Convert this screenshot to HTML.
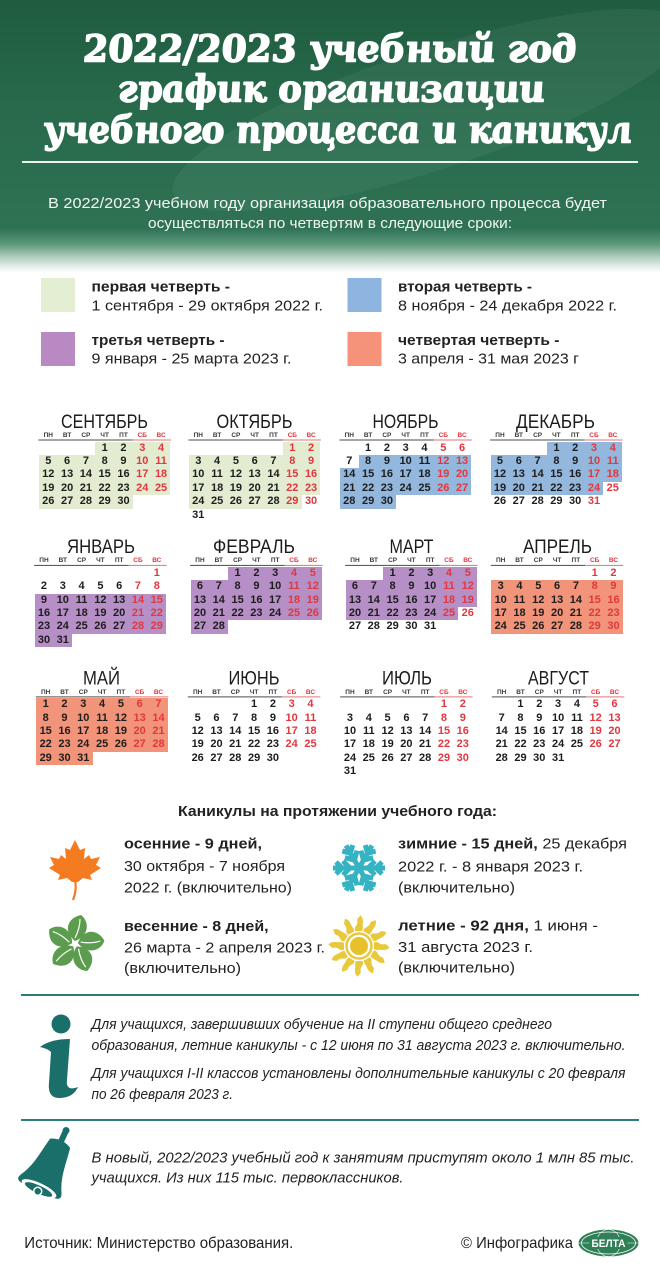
<!DOCTYPE html>
<html><head><meta charset="utf-8">
<style>
*{margin:0;padding:0;box-sizing:border-box}
body{width:660px;height:1280px;position:relative;overflow:hidden;background:#fff;font-family:"Liberation Sans",sans-serif}
svg.bg{position:absolute;left:0;top:0}
.w{position:absolute;width:131.6px}
.h{position:absolute;left:0;top:-9.5px;display:grid;grid-template-columns:repeat(7,18.8px);font:bold 6.5px/7px "Liberation Sans",sans-serif;color:#3a3a3a;text-align:center}
.h i{font-style:normal;display:block}
.h i:nth-child(n+6){color:#e0383e}
.m{position:absolute;left:0;top:0;display:grid;grid-template-columns:repeat(7,18.8px);grid-auto-rows:13.4px;font:bold 11px/13.4px "Liberation Sans",sans-serif;color:#1d1d1d;text-align:center}
.m i,.m b{display:block;font-style:normal;font-weight:bold}
.m i:nth-child(7n+6),.m i:nth-child(7n),.m b:nth-child(7n+6),.m b:nth-child(7n){color:#e0383e}
.m.g b{background:#e3ecd1}
.m.bl b{background:#93b7dd}
.m.p b{background:#b68fc6}
.m.o b{background:#f19479}
</style></head><body>

<svg class="bg" width="660" height="1280" viewBox="0 0 660 1280">
<defs>
<linearGradient id="hg" x1="0" y1="0" x2="0" y2="1">
<stop offset="0" stop-color="#1f5c40"/>
<stop offset="0.4" stop-color="#286a4b"/>
<stop offset="0.83" stop-color="#2e7253"/>
<stop offset="0.89" stop-color="#5f9a7d"/>
<stop offset="0.94" stop-color="#b9d4c6"/>
<stop offset="0.99" stop-color="#ffffff"/>
</linearGradient>
</defs>
<rect x="0" y="0" width="660" height="275" fill="url(#hg)"/>
<ellipse cx="430" cy="110" rx="270" ry="60" transform="rotate(-18 430 110)" fill="#ffffff" opacity="0.05"/>

<g font-family="DejaVu Serif, Liberation Serif, serif" font-weight="bold" font-style="italic" font-size="37" fill="#ffffff" stroke="#ffffff" stroke-width="1.6" stroke-linejoin="round" text-anchor="middle">
<text transform="matrix(1,0,0.12,1,-7.4,0)" x="331.5" y="61.5" textLength="493" lengthAdjust="spacingAndGlyphs">2022/2023 учебный год</text>
<text transform="matrix(1,0,0.12,1,-12.2,0)" x="332.5" y="101.5" textLength="427" lengthAdjust="spacingAndGlyphs">график организации</text>
<text transform="matrix(1,0,0.12,1,-17.1,0)" x="339" y="142.5" textLength="588" lengthAdjust="spacingAndGlyphs">учебного процесса и каникул</text>
</g>
<rect x="22" y="161" width="616" height="2" fill="#eef4ef"/>
<g font-family="Liberation Sans, sans-serif" font-size="15" fill="#f2f6f3" text-anchor="middle">
<text x="327.5" y="208" textLength="559" lengthAdjust="spacingAndGlyphs">В 2022/2023 учебном году организация образовательного процесса будет</text>
<text x="330" y="228" textLength="364" lengthAdjust="spacingAndGlyphs">осуществляться по четвертям в следующие сроки:</text>
</g>

<!-- legend -->
<rect x="41" y="278" width="34" height="34" fill="#e4eed3"/>
<rect x="347.5" y="278" width="34" height="34" fill="#8db5df"/>
<rect x="41" y="332" width="34" height="34" fill="#b889c3"/>
<rect x="347.5" y="332" width="34" height="34" fill="#f4937a"/>
<g font-family="Liberation Sans, sans-serif" font-size="15" fill="#222">
<text x="91.5" y="291.5" font-weight="bold" textLength="138.5" lengthAdjust="spacingAndGlyphs">первая четверть -</text>
<text x="91.5" y="310.7" textLength="231.5" lengthAdjust="spacingAndGlyphs">1 сентября - 29 октября 2022 г.</text>
<text x="398" y="291.5" font-weight="bold" textLength="134" lengthAdjust="spacingAndGlyphs">вторая четверть -</text>
<text x="398" y="310.7" textLength="219" lengthAdjust="spacingAndGlyphs">8 ноября - 24 декабря 2022 г.</text>
<text x="91.5" y="345" font-weight="bold" textLength="133" lengthAdjust="spacingAndGlyphs">третья четверть -</text>
<text x="91.5" y="363.5" textLength="200" lengthAdjust="spacingAndGlyphs">9 января - 25 марта 2023 г.</text>
<text x="398" y="345" font-weight="bold" textLength="161.5" lengthAdjust="spacingAndGlyphs">четвертая четверть -</text>
<text x="398" y="363.5" textLength="181" lengthAdjust="spacingAndGlyphs">3 апреля - 31 мая 2023 г</text>
</g>

<!-- month titles -->
<g font-family="Liberation Sans, sans-serif" font-size="19" fill="#1c1c1c" text-anchor="middle">
<text x="104.5" y="427.8" textLength="87" lengthAdjust="spacingAndGlyphs">СЕНТЯБРЬ</text>
<text x="254.5" y="427.8" textLength="76" lengthAdjust="spacingAndGlyphs">ОКТЯБРЬ</text>
<text x="405.5" y="427.8" textLength="66" lengthAdjust="spacingAndGlyphs">НОЯБРЬ</text>
<text x="555.5" y="427.8" textLength="79" lengthAdjust="spacingAndGlyphs">ДЕКАБРЬ</text>
<text x="101" y="553" textLength="68" lengthAdjust="spacingAndGlyphs">ЯНВАРЬ</text>
<text x="254" y="553" textLength="82" lengthAdjust="spacingAndGlyphs">ФЕВРАЛЬ</text>
<text x="411.5" y="553" textLength="44" lengthAdjust="spacingAndGlyphs">МАРТ</text>
<text x="557.5" y="553" textLength="69" lengthAdjust="spacingAndGlyphs">АПРЕЛЬ</text>
<text x="101.5" y="684.5" textLength="37" lengthAdjust="spacingAndGlyphs">МАЙ</text>
<text x="254" y="684.5" textLength="51" lengthAdjust="spacingAndGlyphs">ИЮНЬ</text>
<text x="407" y="684.5" textLength="50" lengthAdjust="spacingAndGlyphs">ИЮЛЬ</text>
<text x="558.5" y="684.5" textLength="61" lengthAdjust="spacingAndGlyphs">АВГУСТ</text>
</g>
<!-- month underlines -->
<g>
<rect x="38.4" y="439.5" width="94.5" height="1" fill="#4d4d4d"/><rect x="132.9" y="439.5" width="38" height="1" fill="#e57373"/>
<rect x="188.4" y="439.5" width="94.5" height="1" fill="#4d4d4d"/><rect x="282.9" y="439.5" width="38" height="1" fill="#e57373"/>
<rect x="339.4" y="439.5" width="94.5" height="1" fill="#4d4d4d"/><rect x="433.9" y="439.5" width="38" height="1" fill="#e57373"/>
<rect x="490.1" y="439.5" width="94.5" height="1" fill="#4d4d4d"/><rect x="584.6" y="439.5" width="38" height="1" fill="#e57373"/>
<rect x="34.1" y="564.9" width="94.5" height="1" fill="#4d4d4d"/><rect x="128.6" y="564.9" width="38" height="1" fill="#e57373"/>
<rect x="190.1" y="564.9" width="94.5" height="1" fill="#4d4d4d"/><rect x="284.6" y="564.9" width="38" height="1" fill="#e57373"/>
<rect x="345.1" y="564.9" width="94.5" height="1" fill="#4d4d4d"/><rect x="439.6" y="564.9" width="38" height="1" fill="#e57373"/>
<rect x="490.8" y="564.9" width="94.5" height="1" fill="#4d4d4d"/><rect x="585.3" y="564.9" width="38" height="1" fill="#e57373"/>
<rect x="35.8" y="696.4" width="94.5" height="1" fill="#4d4d4d"/><rect x="130.3" y="696.4" width="38" height="1" fill="#e57373"/>
<rect x="187.8" y="696.4" width="94.5" height="1" fill="#4d4d4d"/><rect x="282.3" y="696.4" width="38" height="1" fill="#e57373"/>
<rect x="340.1" y="696.4" width="94.5" height="1" fill="#4d4d4d"/><rect x="434.6" y="696.4" width="38" height="1" fill="#e57373"/>
<rect x="491.8" y="696.4" width="94.5" height="1" fill="#4d4d4d"/><rect x="586.3" y="696.4" width="38" height="1" fill="#e57373"/>
</g>

<!-- vacations -->
<g font-family="Liberation Sans, sans-serif" font-size="15" fill="#222">
<text x="337.5" y="816" text-anchor="middle" font-weight="bold" textLength="319" lengthAdjust="spacingAndGlyphs">Каникулы на протяжении учебного года:</text>
<text x="124" y="848.5" font-weight="bold" textLength="138" lengthAdjust="spacingAndGlyphs">осенние - 9 дней,</text>
<text x="124" y="871" textLength="161" lengthAdjust="spacingAndGlyphs">30 октября - 7 ноября</text>
<text x="124" y="892.5" textLength="168" lengthAdjust="spacingAndGlyphs">2022 г. (включительно)</text>
<text x="398" y="848.5" textLength="229" lengthAdjust="spacingAndGlyphs"><tspan font-weight="bold">зимние - 15 дней,</tspan> 25 декабря</text>
<text x="398" y="871.5" textLength="185" lengthAdjust="spacingAndGlyphs">2022 г. - 8 января 2023 г.</text>
<text x="398" y="892.5" textLength="117" lengthAdjust="spacingAndGlyphs">(включительно)</text>
<text x="124" y="931" font-weight="bold" textLength="144.6" lengthAdjust="spacingAndGlyphs">весенние - 8 дней,</text>
<text x="124" y="952.5" textLength="201" lengthAdjust="spacingAndGlyphs">26 марта - 2 апреля 2023 г.</text>
<text x="124" y="973" textLength="117" lengthAdjust="spacingAndGlyphs">(включительно)</text>
<text x="398" y="930.5" textLength="200" lengthAdjust="spacingAndGlyphs"><tspan font-weight="bold">летние - 92 дня,</tspan> 1 июня -</text>
<text x="398" y="952" textLength="135" lengthAdjust="spacingAndGlyphs">31 августа 2023 г.</text>
<text x="398" y="972.5" textLength="117" lengthAdjust="spacingAndGlyphs">(включительно)</text>
</g>

<!-- maple leaf -->
<g transform="translate(75,868)" fill="#f47b20">
<path d="M0,-28 L5,-18 L10,-20 L9,-9 L14,-13 L16,-9 L25,-11 L21,-3 L26,0 L15,7 L17,12 L8,10 L3,14 L-3,14 L-8,10 L-17,12 L-15,7 L-26,0 L-21,-3 L-25,-11 L-16,-9 L-14,-13 L-9,-9 L-10,-20 L-5,-18 Z"/>
<path d="M0,12 Q2,22 -2,32" stroke="#f47b20" stroke-width="2.2" fill="none"/>
</g>
<!-- snowflake -->
<g transform="translate(359,868)" stroke="#36b3c2" stroke-width="5" fill="none" stroke-linecap="butt">
<path d="M0,0 L26,0 M9,0 L16,-7 M9,0 L16,7 M17,0 L23,-6 M17,0 L23,6"/>
<path transform="rotate(60)" d="M0,0 L26,0 M9,0 L16,-7 M9,0 L16,7 M17,0 L23,-6 M17,0 L23,6"/>
<path transform="rotate(120)" d="M0,0 L26,0 M9,0 L16,-7 M9,0 L16,7 M17,0 L23,-6 M17,0 L23,6"/>
<path transform="rotate(180)" d="M0,0 L26,0 M9,0 L16,-7 M9,0 L16,7 M17,0 L23,-6 M17,0 L23,6"/>
<path transform="rotate(240)" d="M0,0 L26,0 M9,0 L16,-7 M9,0 L16,7 M17,0 L23,-6 M17,0 L23,6"/>
<path transform="rotate(300)" d="M0,0 L26,0 M9,0 L16,-7 M9,0 L16,7 M17,0 L23,-6 M17,0 L23,6"/>
</g>
<!-- flower -->
<g transform="translate(75,944)" fill="#5c9c4e">
<g><path d="M0,-3 C14,-8 15,-22 6,-29 C-8,-26 -12,-13 0,-3 Z"/><path d="M0,-6 Q5,-16 5,-25" stroke="#fff" stroke-width="1.2" fill="none"/></g>
<g transform="rotate(72)"><path d="M0,-3 C14,-8 15,-22 6,-29 C-8,-26 -12,-13 0,-3 Z"/><path d="M0,-6 Q5,-16 5,-25" stroke="#fff" stroke-width="1.2" fill="none"/></g>
<g transform="rotate(144)"><path d="M0,-3 C14,-8 15,-22 6,-29 C-8,-26 -12,-13 0,-3 Z"/><path d="M0,-6 Q5,-16 5,-25" stroke="#fff" stroke-width="1.2" fill="none"/></g>
<g transform="rotate(216)"><path d="M0,-3 C14,-8 15,-22 6,-29 C-8,-26 -12,-13 0,-3 Z"/><path d="M0,-6 Q5,-16 5,-25" stroke="#fff" stroke-width="1.2" fill="none"/></g>
<g transform="rotate(288)"><path d="M0,-3 C14,-8 15,-22 6,-29 C-8,-26 -12,-13 0,-3 Z"/><path d="M0,-6 Q5,-16 5,-25" stroke="#fff" stroke-width="1.2" fill="none"/></g>
</g>
<!-- sun -->
<g transform="translate(359,946)" fill="#e9c93b">
<circle r="9" fill="#e6c12a"/>
<circle r="12.5" fill="none" stroke="#e9c93b" stroke-width="2.5"/>
<path d="M-3.5,-15 C-6,-19 0,-21 -2,-26 C-1,-29 2,-30 1,-31 C6,-27 3,-22 4,-18 C4,-17 3,-16 3.5,-15 Z"/>
<path transform="rotate(30)" d="M-3.5,-15 C-6,-19 0,-21 -2,-26 C-1,-29 2,-30 1,-31 C6,-27 3,-22 4,-18 C4,-17 3,-16 3.5,-15 Z"/>
<path transform="rotate(60)" d="M-3.5,-15 C-6,-19 0,-21 -2,-26 C-1,-29 2,-30 1,-31 C6,-27 3,-22 4,-18 C4,-17 3,-16 3.5,-15 Z"/>
<path transform="rotate(90)" d="M-3.5,-15 C-6,-19 0,-21 -2,-26 C-1,-29 2,-30 1,-31 C6,-27 3,-22 4,-18 C4,-17 3,-16 3.5,-15 Z"/>
<path transform="rotate(120)" d="M-3.5,-15 C-6,-19 0,-21 -2,-26 C-1,-29 2,-30 1,-31 C6,-27 3,-22 4,-18 C4,-17 3,-16 3.5,-15 Z"/>
<path transform="rotate(150)" d="M-3.5,-15 C-6,-19 0,-21 -2,-26 C-1,-29 2,-30 1,-31 C6,-27 3,-22 4,-18 C4,-17 3,-16 3.5,-15 Z"/>
<path transform="rotate(180)" d="M-3.5,-15 C-6,-19 0,-21 -2,-26 C-1,-29 2,-30 1,-31 C6,-27 3,-22 4,-18 C4,-17 3,-16 3.5,-15 Z"/>
<path transform="rotate(210)" d="M-3.5,-15 C-6,-19 0,-21 -2,-26 C-1,-29 2,-30 1,-31 C6,-27 3,-22 4,-18 C4,-17 3,-16 3.5,-15 Z"/>
<path transform="rotate(240)" d="M-3.5,-15 C-6,-19 0,-21 -2,-26 C-1,-29 2,-30 1,-31 C6,-27 3,-22 4,-18 C4,-17 3,-16 3.5,-15 Z"/>
<path transform="rotate(270)" d="M-3.5,-15 C-6,-19 0,-21 -2,-26 C-1,-29 2,-30 1,-31 C6,-27 3,-22 4,-18 C4,-17 3,-16 3.5,-15 Z"/>
<path transform="rotate(300)" d="M-3.5,-15 C-6,-19 0,-21 -2,-26 C-1,-29 2,-30 1,-31 C6,-27 3,-22 4,-18 C4,-17 3,-16 3.5,-15 Z"/>
<path transform="rotate(330)" d="M-3.5,-15 C-6,-19 0,-21 -2,-26 C-1,-29 2,-30 1,-31 C6,-27 3,-22 4,-18 C4,-17 3,-16 3.5,-15 Z"/>
</g>

<!-- info section -->
<rect x="21" y="994" width="618" height="2" fill="#2c7d78"/>
<rect x="21" y="1119" width="618" height="2" fill="#2c7d78"/>
<g fill="#1b6f6b">
<circle cx="61" cy="1024" r="9.5"/>
<path d="M40,1047 C48,1041 58,1039 70,1039 L67,1080 C66,1088 70,1090 78,1087 C74,1096 66,1098 59,1098 C51,1098 48,1092 49,1083 L51,1052 C48,1049 44,1048 40,1047 Z"/>
</g>
<g font-family="Liberation Sans, sans-serif" font-size="14.5" font-style="italic" fill="#222">
<text x="91.5" y="1029" textLength="460.5" lengthAdjust="spacingAndGlyphs">Для учащихся, завершивших обучение на II ступени общего среднего</text>
<text x="91.5" y="1050" textLength="534" lengthAdjust="spacingAndGlyphs">образования, летние каникулы - с 12 июня по 31 августа 2023 г. включительно.</text>
<text x="91.5" y="1078" textLength="534" lengthAdjust="spacingAndGlyphs">Для учащихся I-II классов установлены дополнительные каникулы с 20 февраля</text>
<text x="91.5" y="1099" textLength="141.5" lengthAdjust="spacingAndGlyphs">по 26 февраля 2023 г.</text>
<text x="91.5" y="1162.5" textLength="543" lengthAdjust="spacingAndGlyphs">В новый, 2022/2023 учебный год к занятиям приступят около 1 млн 85 тыс.</text>
<text x="91.5" y="1182.5" textLength="312" lengthAdjust="spacingAndGlyphs">учащихся. Из них 115 тыс. первоклассников.</text>
</g>
<!-- bell -->
<g transform="translate(50,1165) rotate(25)" fill="#1b6f6b">
<rect x="-3" y="-38" width="6" height="16" rx="2"/>
<circle cx="0" cy="-38" r="3.5"/>
<path d="M-11,-24 Q0,-30 11,-24 C14,-10 14,6 22,20 Q26,27 19,28 L-19,28 Q-26,27 -22,20 C-14,6 -14,-10 -11,-24 Z"/>
<ellipse cx="0" cy="26" rx="19" ry="5.5" fill="#ffffff"/>
<ellipse cx="0" cy="27" rx="15" ry="4" fill="#1b6f6b"/>
<circle cx="0" cy="29" r="4" fill="#1b6f6b" stroke="#fff" stroke-width="1.5"/>
</g>

<!-- footer -->
<g font-family="Liberation Sans, sans-serif" font-size="16" fill="#222">
<text x="24.3" y="1248" textLength="269" lengthAdjust="spacingAndGlyphs">Источник: Министерство образования.</text>
<text x="461" y="1248" textLength="112" lengthAdjust="spacingAndGlyphs">© Инфографика</text>
</g>
<g transform="translate(608.5,1243)">
<ellipse rx="30" ry="13.5" fill="#2f7f57"/>
<ellipse rx="27" ry="11" fill="none" stroke="#fff" stroke-width="0.8"/>
<path d="M-30,0 H30" stroke="#fff" stroke-width="0.6"/>
<ellipse rx="12" ry="13.5" fill="none" stroke="#fff" stroke-width="0.6"/>
<rect x="-19" y="-6" width="38" height="12" fill="#2f7f57"/>
<text y="4" text-anchor="middle" font-family="Liberation Sans, sans-serif" font-size="11" font-weight="bold" fill="#fff" textLength="34" lengthAdjust="spacingAndGlyphs">БЕЛТА</text>
</g>
</svg>

<!-- СЕНТЯБРЬ -->
<div class="w" style="left:38.9px;top:441.6px">
<div class="h"><i>ПН</i><i>ВТ</i><i>СР</i><i>ЧТ</i><i>ПТ</i><i>СБ</i><i>ВС</i></div>
<div class="m g"><i></i><i></i><i></i><b>1</b><b>2</b><b>3</b><b>4</b><b>5</b><b>6</b><b>7</b><b>8</b><b>9</b><b>10</b><b>11</b><b>12</b><b>13</b><b>14</b><b>15</b><b>16</b><b>17</b><b>18</b><b>19</b><b>20</b><b>21</b><b>22</b><b>23</b><b>24</b><b>25</b><b>26</b><b>27</b><b>28</b><b>29</b><b>30</b></div>
</div>
<!-- ОКТЯБРЬ -->
<div class="w" style="left:188.9px;top:441.6px">
<div class="h"><i>ПН</i><i>ВТ</i><i>СР</i><i>ЧТ</i><i>ПТ</i><i>СБ</i><i>ВС</i></div>
<div class="m g"><i></i><i></i><i></i><i></i><i></i><b>1</b><b>2</b><b>3</b><b>4</b><b>5</b><b>6</b><b>7</b><b>8</b><b>9</b><b>10</b><b>11</b><b>12</b><b>13</b><b>14</b><b>15</b><b>16</b><b>17</b><b>18</b><b>19</b><b>20</b><b>21</b><b>22</b><b>23</b><b>24</b><b>25</b><b>26</b><b>27</b><b>28</b><b>29</b><i>30</i><i>31</i></div>
</div>
<!-- НОЯБРЬ -->
<div class="w" style="left:339.9px;top:441.6px">
<div class="h"><i>ПН</i><i>ВТ</i><i>СР</i><i>ЧТ</i><i>ПТ</i><i>СБ</i><i>ВС</i></div>
<div class="m bl"><i></i><i>1</i><i>2</i><i>3</i><i>4</i><i>5</i><i>6</i><i>7</i><b>8</b><b>9</b><b>10</b><b>11</b><b>12</b><b>13</b><b>14</b><b>15</b><b>16</b><b>17</b><b>18</b><b>19</b><b>20</b><b>21</b><b>22</b><b>23</b><b>24</b><b>25</b><b>26</b><b>27</b><b>28</b><b>29</b><b>30</b></div>
</div>
<!-- ДЕКАБРЬ -->
<div class="w" style="left:490.6px;top:441.6px">
<div class="h"><i>ПН</i><i>ВТ</i><i>СР</i><i>ЧТ</i><i>ПТ</i><i>СБ</i><i>ВС</i></div>
<div class="m bl"><i></i><i></i><i></i><b>1</b><b>2</b><b>3</b><b>4</b><b>5</b><b>6</b><b>7</b><b>8</b><b>9</b><b>10</b><b>11</b><b>12</b><b>13</b><b>14</b><b>15</b><b>16</b><b>17</b><b>18</b><b>19</b><b>20</b><b>21</b><b>22</b><b>23</b><b>24</b><i>25</i><i>26</i><i>27</i><i>28</i><i>29</i><i>30</i><i>31</i></div>
</div>

<!-- ЯНВАРЬ -->
<div class="w" style="left:34.6px;top:566.8px">
<div class="h"><i>ПН</i><i>ВТ</i><i>СР</i><i>ЧТ</i><i>ПТ</i><i>СБ</i><i>ВС</i></div>
<div class="m p"><i></i><i></i><i></i><i></i><i></i><i></i><i>1</i><i>2</i><i>3</i><i>4</i><i>5</i><i>6</i><i>7</i><i>8</i><b>9</b><b>10</b><b>11</b><b>12</b><b>13</b><b>14</b><b>15</b><b>16</b><b>17</b><b>18</b><b>19</b><b>20</b><b>21</b><b>22</b><b>23</b><b>24</b><b>25</b><b>26</b><b>27</b><b>28</b><b>29</b><b>30</b><b>31</b></div>
</div>
<!-- ФЕВРАЛЬ -->
<div class="w" style="left:190.6px;top:566.8px">
<div class="h"><i>ПН</i><i>ВТ</i><i>СР</i><i>ЧТ</i><i>ПТ</i><i>СБ</i><i>ВС</i></div>
<div class="m p"><i></i><i></i><b>1</b><b>2</b><b>3</b><b>4</b><b>5</b><b>6</b><b>7</b><b>8</b><b>9</b><b>10</b><b>11</b><b>12</b><b>13</b><b>14</b><b>15</b><b>16</b><b>17</b><b>18</b><b>19</b><b>20</b><b>21</b><b>22</b><b>23</b><b>24</b><b>25</b><b>26</b><b>27</b><b>28</b></div>
</div>
<!-- МАРТ -->
<div class="w" style="left:345.6px;top:566.8px">
<div class="h"><i>ПН</i><i>ВТ</i><i>СР</i><i>ЧТ</i><i>ПТ</i><i>СБ</i><i>ВС</i></div>
<div class="m p"><i></i><i></i><b>1</b><b>2</b><b>3</b><b>4</b><b>5</b><b>6</b><b>7</b><b>8</b><b>9</b><b>10</b><b>11</b><b>12</b><b>13</b><b>14</b><b>15</b><b>16</b><b>17</b><b>18</b><b>19</b><b>20</b><b>21</b><b>22</b><b>23</b><b>24</b><b>25</b><i>26</i><i>27</i><i>28</i><i>29</i><i>30</i><i>31</i></div>
</div>
<!-- АПРЕЛЬ -->
<div class="w" style="left:491.3px;top:566.8px">
<div class="h"><i>ПН</i><i>ВТ</i><i>СР</i><i>ЧТ</i><i>ПТ</i><i>СБ</i><i>ВС</i></div>
<div class="m o"><i></i><i></i><i></i><i></i><i></i><i>1</i><i>2</i><b>3</b><b>4</b><b>5</b><b>6</b><b>7</b><b>8</b><b>9</b><b>10</b><b>11</b><b>12</b><b>13</b><b>14</b><b>15</b><b>16</b><b>17</b><b>18</b><b>19</b><b>20</b><b>21</b><b>22</b><b>23</b><b>24</b><b>25</b><b>26</b><b>27</b><b>28</b><b>29</b><b>30</b></div>
</div>

<!-- МАЙ -->
<div class="w" style="left:36.3px;top:698.3px">
<div class="h"><i>ПН</i><i>ВТ</i><i>СР</i><i>ЧТ</i><i>ПТ</i><i>СБ</i><i>ВС</i></div>
<div class="m o"><b>1</b><b>2</b><b>3</b><b>4</b><b>5</b><b>6</b><b>7</b><b>8</b><b>9</b><b>10</b><b>11</b><b>12</b><b>13</b><b>14</b><b>15</b><b>16</b><b>17</b><b>18</b><b>19</b><b>20</b><b>21</b><b>22</b><b>23</b><b>24</b><b>25</b><b>26</b><b>27</b><b>28</b><b>29</b><b>30</b><b>31</b></div>
</div>
<!-- ИЮНЬ -->
<div class="w" style="left:188.3px;top:698.3px">
<div class="h"><i>ПН</i><i>ВТ</i><i>СР</i><i>ЧТ</i><i>ПТ</i><i>СБ</i><i>ВС</i></div>
<div class="m"><i></i><i></i><i></i><i>1</i><i>2</i><i>3</i><i>4</i><i>5</i><i>6</i><i>7</i><i>8</i><i>9</i><i>10</i><i>11</i><i>12</i><i>13</i><i>14</i><i>15</i><i>16</i><i>17</i><i>18</i><i>19</i><i>20</i><i>21</i><i>22</i><i>23</i><i>24</i><i>25</i><i>26</i><i>27</i><i>28</i><i>29</i><i>30</i></div>
</div>
<!-- ИЮЛЬ -->
<div class="w" style="left:340.6px;top:698.3px">
<div class="h"><i>ПН</i><i>ВТ</i><i>СР</i><i>ЧТ</i><i>ПТ</i><i>СБ</i><i>ВС</i></div>
<div class="m"><i></i><i></i><i></i><i></i><i></i><i>1</i><i>2</i><i>3</i><i>4</i><i>5</i><i>6</i><i>7</i><i>8</i><i>9</i><i>10</i><i>11</i><i>12</i><i>13</i><i>14</i><i>15</i><i>16</i><i>17</i><i>18</i><i>19</i><i>20</i><i>21</i><i>22</i><i>23</i><i>24</i><i>25</i><i>26</i><i>27</i><i>28</i><i>29</i><i>30</i><i>31</i></div>
</div>
<!-- АВГУСТ -->
<div class="w" style="left:492.3px;top:698.3px">
<div class="h"><i>ПН</i><i>ВТ</i><i>СР</i><i>ЧТ</i><i>ПТ</i><i>СБ</i><i>ВС</i></div>
<div class="m"><i></i><i>1</i><i>2</i><i>3</i><i>4</i><i>5</i><i>6</i><i>7</i><i>8</i><i>9</i><i>10</i><i>11</i><i>12</i><i>13</i><i>14</i><i>15</i><i>16</i><i>17</i><i>18</i><i>19</i><i>20</i><i>21</i><i>22</i><i>23</i><i>24</i><i>25</i><i>26</i><i>27</i><i>28</i><i>29</i><i>30</i><i>31</i></div>
</div>

</body></html>
